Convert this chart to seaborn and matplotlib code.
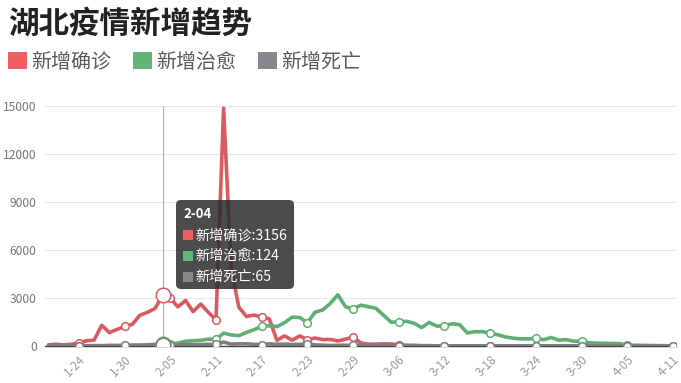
import numpy as np
import pandas as pd
import matplotlib.pyplot as plt
import seaborn as sns
from matplotlib.patches import FancyBboxPatch, Patch, Rectangle
from matplotlib.transforms import IdentityTransform

sns.set_theme(style="white")
plt.rcParams['font.family'] = ['Noto Sans CJK SC', 'DejaVu Sans']
plt.rcParams['axes.unicode_minus'] = False

# ---------- data (1-20 .. 4-11) ----------
dates = pd.date_range('2020-01-20', '2020-04-11')
day_labels = [f"{d.month}-{d.day:02d}" for d in dates]

confirmed = [72, 105, 69, 105, 180, 323, 371, 1291, 840, 1032, 1220, 1347,
             1921, 2103, 2345, 3156, 2987, 2447, 2841, 2147, 2618, 2097,
             1638, 14840, 4823, 2420, 1843, 1933, 1807, 1693, 349, 631,
             366, 630, 398, 499, 401, 409, 318, 423, 570,
             196, 114, 115, 134, 126, 74, 41, 36, 17, 13,
             8, 5, 4, 4, 0, 1, 1, 0, 0, 0,
             0, 0, 0, 0, 0, 0, 0, 0, 0, 0, 0,
             0, 0, 0, 0, 0, 0, 0, 0, 0, 0, 0]
cured = [0, 3, 3, 3, 1, 10, 2, 3, 33, 10, 26, 50,
         49, 80, 101, 124, 113, 184, 298, 324, 356, 427,
         417, 802, 690, 643, 849, 1016, 1223, 1266, 1209, 1451,
         1800, 1780, 1449, 2106, 2250, 2650, 3200, 2450, 2300,
         2550, 2450, 2350, 1923, 1487, 1502, 1543, 1422, 1152, 1471,
         1242, 1255, 1390, 1335, 816, 893, 896, 795, 703, 565,
         487, 446, 445, 487, 390, 531, 366, 396, 299, 300, 200,
         180, 170, 160, 150, 60, 45, 40, 30, 25, 15, 10]
dead = [3, 3, 8, 8, 15, 13, 24, 24, 25, 37, 42, 45,
        45, 56, 64, 65, 70, 69, 81, 81, 91, 103,
        94, 242, 116, 139, 139, 100, 93, 132, 108, 115,
        96, 96, 149, 68, 52, 29, 44, 47, 35,
        42, 31, 38, 31, 29, 28, 27, 22, 16, 22,
        10, 10, 13, 10, 12, 11, 11, 8, 3, 7,
        6, 7, 6, 3, 5, 5, 3, 3, 5, 1, 7,
        6, 4, 4, 2, 1, 0, 0, 0, 0, 0, 0]

names = ['新增确诊', '新增治愈', '新增死亡']
line_colors = ['#d95a61', '#5fae74', '#7e7e80']
legend_colors = ['#ee5e62', '#62b677', '#88888c']
hover_label = '2-04'
y_ticks = [0, 3000, 6000, 9000, 12000, 15000]

n = len(day_labels)
df = pd.DataFrame({'day': range(n), names[0]: confirmed, names[1]: cured, names[2]: dead})
df = df.melt(id_vars='day', var_name='type', value_name='count')

fig = plt.figure(figsize=(6.81, 3.83), dpi=100)
ax = fig.add_axes([45 / 681, 1 - 346 / 383, 631 / 681, (346 - 105.7) / 383])

sns.lineplot(data=df, x='day', y='count', hue='type', hue_order=names,
             palette=dict(zip(names, line_colors)), linewidth=2.6,
             legend=False, ax=ax, zorder=3)
for ln in ax.lines:
    ln.set_solid_joinstyle('round')

# symbols at the labelled days
mark_idx = list(range(4, n, 6))
hv = day_labels.index(hover_label)
ax.axvline(hv, color='#b0b0b0', lw=0.8, zorder=2)
for nm, c in zip(names, line_colors):
    sub = df[(df['type'] == nm) & (df['day'].isin(mark_idx))]
    sns.scatterplot(data=sub, x='day', y='count', color='white', edgecolor=c,
                    linewidth=1.1, s=30, zorder=5, legend=False, ax=ax)
    sub = df[(df['type'] == nm) & (df['day'] == hv)]
    sns.scatterplot(data=sub, x='day', y='count', color='white', edgecolor=c,
                    linewidth=1.1, s=110, zorder=6, legend=False, ax=ax)

ax.set_xlim(-0.45, n - 1 + 0.4)
ax.set_ylim(0, 15000)
ax.set_yticks(y_ticks)
ax.set_yticklabels([str(v) for v in y_ticks])
ax.set_xticks(mark_idx)
ax.set_xticklabels([day_labels[i] for i in mark_idx], rotation=45, ha='right',
                   rotation_mode='anchor')
ax.tick_params(axis='y', length=0, labelsize=8.7, labelcolor='#777777', pad=6)
ax.tick_params(axis='x', length=0, labelsize=8.5, labelcolor='#999999', pad=5)
ax.yaxis.grid(True, color='#e6e6e6', lw=0.8)
ax.xaxis.grid(False)
for s in ['top', 'right', 'left']:
    ax.spines[s].set_visible(False)
ax.spines['bottom'].set_color('#444444')
ax.spines['bottom'].set_linewidth(1)
ax.set_xlabel('')
ax.set_ylabel('')

# title and legend
fig.text(8 / 681, 1 - 24 / 383, '湖北疫情新增趋势', fontsize=22, fontweight='black',
         color='#222222', ha='left', va='center')
handles = [Patch(facecolor=c, edgecolor='none', label=nm) for nm, c in zip(names, legend_colors)]
fig.legend(handles=handles, loc='center left', bbox_to_anchor=(8 / 681, 1 - 62 / 383),
           ncol=3, frameon=False, fontsize=14.4, handlelength=0.95, handleheight=0.95,
           handletextpad=0.2, columnspacing=1.1, labelcolor='#5a5a5a',
           borderaxespad=0, borderpad=0)

# tooltip
tip = FancyBboxPatch((176, 383 - 289), 118, 89, boxstyle='round,pad=0,rounding_size=5',
                     transform=IdentityTransform(), fc='#2e2e2e', ec='none', alpha=0.86,
                     zorder=20)
fig.add_artist(tip)
fig.text(183 / 681, 1 - 214 / 383, hover_label, color='white', fontsize=9.5,
         fontweight='bold', ha='left', va='center', zorder=21)
values = [confirmed[hv], cured[hv], dead[hv]]
for k, (nm, c, v) in enumerate(zip(names, legend_colors, values)):
    yc = 235 + k * 21
    sq = Rectangle((183, 383 - yc - 5), 10, 10, transform=IdentityTransform(),
                   fc=c, ec='none', zorder=21)
    fig.add_artist(sq)
    fig.text(195 / 681, 1 - yc / 383, f"{nm}:{v}", color='white', fontsize=10.2,
             ha='left', va='center', zorder=21)

plt.savefig('out.png', dpi=100)
plt.close()
